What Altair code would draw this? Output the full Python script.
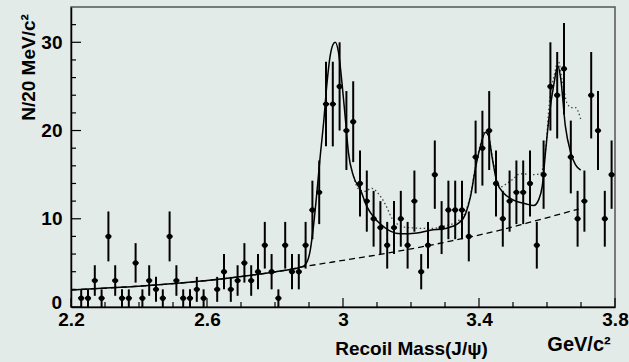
import altair as alt
import pandas as pd

# ---- data ----
mass = [2.23, 2.25, 2.27, 2.29, 2.31, 2.33, 2.35, 2.37, 2.39, 2.41,
        2.43, 2.45, 2.47, 2.49, 2.51, 2.53, 2.55, 2.57, 2.59, 2.63,
        2.65, 2.67, 2.69, 2.71, 2.73, 2.75, 2.77, 2.79, 2.81, 2.83,
        2.85, 2.87, 2.89, 2.91, 2.93, 2.95, 2.97, 2.99, 3.01, 3.03,
        3.05, 3.07, 3.09, 3.11, 3.13, 3.15, 3.17, 3.19, 3.21, 3.23,
        3.25, 3.27, 3.29, 3.31, 3.33, 3.35, 3.37, 3.39, 3.41, 3.43,
        3.45, 3.47, 3.49, 3.51, 3.53, 3.55, 3.57, 3.59, 3.61, 3.63,
        3.65, 3.67, 3.69, 3.71, 3.73, 3.75, 3.77, 3.79]
counts = [1, 1, 3, 1, 8, 3, 1, 1, 5, 1,
          3, 2, 1, 8, 3, 1, 1, 2, 1, 2,
          4, 2, 3, 5, 3, 4, 7, 4, 1, 7,
          4, 4, 7, 11, 13, 23, 23, 25, 20, 21,
          14, 12, 10, 9, 7, 9, 10, 7, 12, 4,
          7, 15, 9, 11, 11, 11, 8, 17, 18, 20,
          14, 10, 12, 13, 13, 14, 7, 15, 25, 24,
          27, 17, 10, 12, 24, 20, 10, 15]

fit_m = [2.20, 2.33, 2.45, 2.60, 2.73, 2.82, 2.874, 2.889, 2.904, 2.913,
         2.923, 2.933, 2.943, 2.953, 2.962, 2.970, 2.977, 2.987, 2.997, 3.007,
         3.016, 3.031, 3.051, 3.070, 3.090, 3.110, 3.139, 3.169, 3.218, 3.257,
         3.301, 3.340, 3.360, 3.375, 3.389, 3.404, 3.419, 3.428, 3.438, 3.453,
         3.473, 3.497, 3.537, 3.561, 3.576, 3.586, 3.596, 3.606, 3.620, 3.632,
         3.640, 3.654, 3.669, 3.684, 3.699]
fit_v = [1.93, 2.2, 2.5, 3.0, 3.6, 4.1, 4.5, 4.8, 6.5, 9.1,
         12.9, 17.1, 20.9, 25.4, 28.4, 29.7, 30.0, 28.8, 25.4, 21.3,
         17.5, 14.8, 13.3, 11.4, 10.2, 9.4, 8.6, 8.3, 8.4, 8.7,
         8.9, 9.5, 10.5, 12.5, 15.6, 18.2, 19.8, 19.4, 17.1, 14.1,
         12.9, 12.2, 11.7, 11.5, 12.2, 13.7, 17.7, 21.5, 25.2, 27.3,
         26.0, 20.5, 17.6, 16.1, 15.5]

alt_m = [3.031, 3.045, 3.063, 3.085, 3.105, 3.125, 3.145, 3.164, 3.190, 3.257,
         3.301, 3.340, 3.360, 3.375, 3.389, 3.404, 3.419, 3.428, 3.438, 3.453,
         3.463, 3.478, 3.497, 3.522, 3.561, 3.581, 3.596, 3.608, 3.622, 3.633,
         3.645, 3.659, 3.672, 3.684, 3.699]
alt_v = [14.8, 13.4, 13.1, 13.45, 12.8, 11.6, 10.0, 9.3, 9.0, 8.9,
         9.2, 9.8, 10.8, 12.7, 15.8, 18.4, 20.0, 19.6, 17.3, 14.4,
         13.6, 13.9, 14.4, 15.1, 15.0, 15.1, 18.0, 23.5, 26.4, 27.9,
         25.6, 23.1, 22.6, 22.6, 21.3]

bkg_m = [2.20, 2.33, 2.45, 2.60, 2.73, 2.82, 2.89, 2.97, 3.13, 3.25,
         3.32, 3.45, 3.54, 3.693]
bkg_v = [1.93, 2.2, 2.5, 3.0, 3.6, 4.1, 4.6, 5.1, 6.1, 6.95,
         7.5, 8.6, 9.5, 11.1]

x_major = [2.2, 2.6, 3.0, 3.4, 3.8]
x_minor = [2.3, 2.4, 2.5, 2.7, 2.8, 2.9, 3.1, 3.2, 3.3, 3.5, 3.6, 3.7]
y_major = [0, 10, 20, 30]
y_labels = [10, 20, 30]
y_minor = [2, 4, 6, 8, 12, 14, 16, 18, 22, 24, 26, 28, 32]

x_title = "Recoil Mass(J/\u03c8)"
x_unit = "GeV/c\u00b2"
y_title = "N/20 MeV/c\u00b2"
zero_label = "0"

# ---- chart ----
FONT = "Liberation Sans"
pts = pd.DataFrame({"m": mass, "v": counts})
fit = pd.DataFrame({"m": fit_m, "v": fit_v})
alt_fit = pd.DataFrame({"m": alt_m, "v": alt_v})
bkg = pd.DataFrame({"m": bkg_m, "v": bkg_v})

xs = alt.Scale(domain=[2.2, 3.8], nice=False, zero=False)
ys = alt.Scale(domain=[0, 34], nice=False)

xaxis = alt.Axis(values=x_major, format="~g", ticks=False, tickSize=0, grid=False,
                 domainColor="black", domainWidth=1.5,
                 labelFont=FONT, labelFontWeight="bold", labelFontSize=19,
                 labelColor="black", labelPadding=3, labelFlush=False, labelOverlap=False,
                 title=x_title, titleFont=FONT, titleFontWeight="bold", titleFontSize=19,
                 titleColor="black", titleX=340, titleY=41, titleAlign="center",
                 titleBaseline="middle")
yaxis = alt.Axis(values=y_labels, ticks=False, tickSize=0, grid=False,
                 domainColor="black", domainWidth=1.5,
                 labelFont=FONT, labelFontWeight="bold", labelFontSize=19,
                 labelColor="black", labelPadding=9, labelOverlap=False,
                 title=y_title, titleFont=FONT, titleFontWeight="bold", titleFontSize=19,
                 titleColor="black", titleX=-43, titleY=60, titleAngle=270,
                 titleAlign="center", titleBaseline="middle")

X = alt.X("m:Q", scale=xs, axis=xaxis)
Y = alt.Y("v:Q", scale=ys, axis=yaxis)

errv = alt.Chart(pts).transform_calculate(
    lo="datum.v - sqrt(datum.v)", hi="datum.v + sqrt(datum.v)"
).mark_rule(color="black", strokeWidth=2).encode(
    x=X, y=alt.Y("lo:Q", scale=ys, axis=yaxis), y2="hi:Q")
errh = alt.Chart(pts).transform_calculate(
    xl="datum.m - 0.009", xh="datum.m + 0.009"
).mark_rule(color="black", strokeWidth=2).encode(
    x=alt.X("xl:Q", scale=xs, axis=xaxis), x2="xh:Q", y=Y)
marks = alt.Chart(pts).mark_point(filled=True, shape="circle", size=28,
                                  color="black", opacity=1).encode(x=X, y=Y)

bkg_line = alt.Chart(bkg).mark_line(color="black", strokeWidth=1.3,
                                    strokeDash=[6, 4], interpolate="monotone").encode(x=X, y=Y)
alt_line = alt.Chart(alt_fit).mark_line(color="#444", strokeWidth=1.3,
                                        strokeDash=[1.5, 2.5], interpolate="monotone").encode(x=X, y=Y)
fit_line = alt.Chart(fit).mark_line(color="black", strokeWidth=1.5,
                                    interpolate="monotone").encode(x=X, y=Y)

xt_major = alt.Chart(pd.DataFrame({"m": x_major})).mark_rule(color="black", strokeWidth=1.2).encode(
    x=X, y=alt.value(300), y2=alt.value(291))
xt_minor = alt.Chart(pd.DataFrame({"m": x_minor})).mark_rule(color="black", strokeWidth=1.2).encode(
    x=X, y=alt.value(300), y2=alt.value(295))
yt_major = alt.Chart(pd.DataFrame({"v": y_major})).mark_rule(color="black", strokeWidth=1.2).encode(
    y=Y, x=alt.value(0), x2=alt.value(10))
yt_minor = alt.Chart(pd.DataFrame({"v": y_minor})).mark_rule(color="black", strokeWidth=1.2).encode(
    y=Y, x=alt.value(0), x2=alt.value(5))

zero = alt.Chart(pd.DataFrame({"v": [0], "t": [zero_label]})).mark_text(
    font=FONT, fontWeight="bold", fontSize=19, color="black",
    align="right", baseline="alphabetic", dy=2).encode(
    text="t:N", y=Y, x=alt.value(-9))

unit = alt.Chart(pd.DataFrame({"t": [x_unit]})).mark_text(
    font=FONT, fontWeight="bold", fontSize=20, color="black",
    align="center", baseline="middle").encode(
    text="t:N", x=alt.value(508), y=alt.value(338))

chart = alt.layer(
    xt_minor, xt_major, yt_minor, yt_major,
    bkg_line, alt_line, fit_line, errv, errh, marks, zero, unit
).properties(
    width=544, height=300,
    autosize=alt.AutoSizeParams(type="none"),
    padding={"left": 71, "top": 7, "right": 14, "bottom": 55},
    background="#e3ebe8"
).configure_view(stroke="#555", strokeWidth=1.5)

chart.save("out.html", embed_options={"renderer": "svg", "actions": False})
